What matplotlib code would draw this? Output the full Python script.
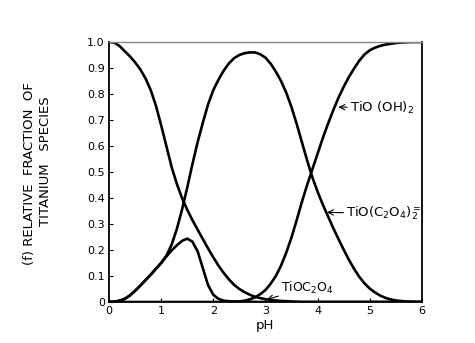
import matplotlib.pyplot as plt

# fraction of each titanium species vs pH (read every 0.1 pH unit)
ph = [round(0.1 * i, 1) for i in range(61)]

tio_free = [1.0, 0.998, 0.985, 0.965, 0.945, 0.922, 0.895, 0.86, 0.815, 0.755,
            0.68, 0.60, 0.52, 0.455, 0.40, 0.355, 0.315, 0.278, 0.242, 0.206,
            0.172, 0.14, 0.112, 0.087, 0.066, 0.05, 0.038, 0.028, 0.02, 0.015,
            0.011, 0.008, 0.006, 0.004, 0.003, 0.002, 0.001, 0.0, 0.0, 0.0,
            0.0, 0.0, 0.0, 0.0, 0.0, 0.0, 0.0, 0.0, 0.0, 0.0,
            0.0, 0.0, 0.0, 0.0, 0.0, 0.0, 0.0, 0.0, 0.0, 0.0, 0.0]

tio_c2o4 = [0.0, 0.001, 0.005, 0.012, 0.025, 0.043, 0.063, 0.084, 0.105, 0.128,
            0.15, 0.175, 0.198, 0.218, 0.235, 0.244, 0.232, 0.195, 0.13, 0.065,
            0.028, 0.012, 0.005, 0.003, 0.002, 0.0015, 0.001, 0.001, 0.0005, 0.0,
            0.0, 0.0, 0.0, 0.0, 0.0, 0.0, 0.0, 0.0, 0.0, 0.0,
            0.0, 0.0, 0.0, 0.0, 0.0, 0.0, 0.0, 0.0, 0.0, 0.0,
            0.0, 0.0, 0.0, 0.0, 0.0, 0.0, 0.0, 0.0, 0.0, 0.0, 0.0]

tio_c2o4_2 = [0.0, 0.001, 0.005, 0.012, 0.025, 0.043, 0.063, 0.084, 0.105, 0.128,
              0.15, 0.178, 0.22, 0.28, 0.355, 0.44, 0.53, 0.615, 0.69, 0.76,
              0.815, 0.855, 0.89, 0.918, 0.938, 0.95, 0.957, 0.96, 0.96, 0.953,
              0.94, 0.917, 0.886, 0.85, 0.805, 0.75, 0.685, 0.615, 0.545, 0.48,
              0.425, 0.375, 0.33, 0.285, 0.243, 0.202, 0.163, 0.128, 0.097, 0.072,
              0.052, 0.037, 0.025, 0.016, 0.01, 0.006, 0.004, 0.002, 0.001, 0.0005, 0.0]

tio_oh2 = [0.0, 0.0, 0.0, 0.0, 0.0, 0.0, 0.0, 0.0, 0.0, 0.0,
           0.0, 0.0, 0.0, 0.0, 0.0, 0.0, 0.0, 0.0, 0.0, 0.0,
           0.0, 0.0, 0.0, 0.0, 0.0005, 0.002, 0.005, 0.01, 0.018, 0.03,
           0.046, 0.07, 0.10, 0.14, 0.19, 0.248, 0.315, 0.385, 0.45, 0.51,
           0.57, 0.63, 0.685, 0.737, 0.785, 0.827, 0.865, 0.898, 0.928, 0.952,
           0.968, 0.978, 0.985, 0.99, 0.993, 0.996, 0.998, 0.999, 1.0, 1.0, 1.0]

xticks = [0, 1, 2, 3, 4, 5, 6]
yticks = [0, 0.1, 0.2, 0.3, 0.4, 0.5, 0.6, 0.7, 0.8, 0.9, 1.0]
ylabels = ['0', '0.1', '0.2', '0.3', '0.4', '0.5', '0.6', '0.7', '0.8', '0.9', '1.0']

fig = plt.figure(figsize=(4.75, 3.43), dpi=100)
ax = fig.add_axes([0.2295, 0.1195, 0.6585, 0.758])

for y in [tio_free, tio_c2o4, tio_c2o4_2, tio_oh2]:
    ax.plot(ph, y, color='black', lw=1.9, solid_joinstyle='round',
            solid_capstyle='round')

ax.set_xlim(0, 6)
ax.set_ylim(0, 1.0)
ax.set_xticks(xticks)
ax.set_yticks(yticks)
ax.set_yticklabels(ylabels)
ax.tick_params(direction='in', length=3, width=0.8, labelsize=8, pad=3)
ax.spines['top'].set_color('#888888')
ax.spines['top'].set_linewidth(1.0)
for s in ['left', 'bottom', 'right']:
    ax.spines[s].set_linewidth(1.3)

ax.set_xlabel('pH', fontsize=9.5, labelpad=2)
fig.text(0.063, 0.495, '(f) RELATIVE  FRACTION  OF', rotation=90,
         fontsize=9.5, ha='center', va='center')
fig.text(0.095, 0.53, 'TITANIUM   SPECIES', rotation=90,
         fontsize=9.5, ha='center', va='center')

arrow = dict(arrowstyle='->', color='black', lw=0.8, shrinkA=0, shrinkB=0)
ax.annotate(r'TiO (OH)$_2$', xy=(4.4, 0.75), xytext=(4.62, 0.745),
            fontsize=9.5, va='center', arrowprops=arrow)
ax.annotate(r'TiO(C$_2$O$_4$)$_2^{=}$', xy=(4.18, 0.345), xytext=(4.55, 0.34),
            fontsize=9.5, va='center', arrowprops=arrow)
ax.annotate(r'TiOC$_2$O$_4$', xy=(3.03, 0.01), xytext=(3.3, 0.055),
            fontsize=9, va='center', arrowprops=arrow)

plt.savefig('out.png', dpi=100)
